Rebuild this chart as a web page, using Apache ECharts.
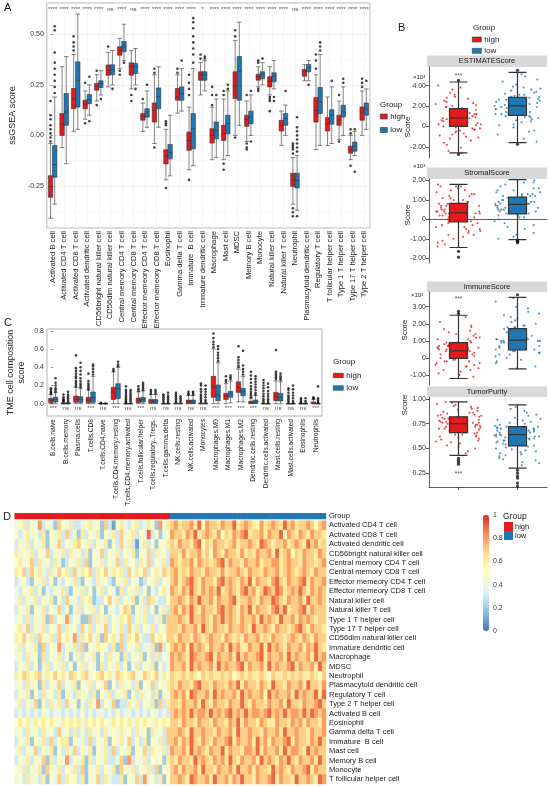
<!DOCTYPE html>
<html>
<head>
<meta charset="utf-8">
<script src="https://cdn.jsdelivr.net/npm/echarts@6/dist/echarts.min.js"></script>
<style>
  html, body { margin: 0; padding: 0; background: #fff; }
  #main { width: 550px; height: 787px; }
</style>
</head>
<body>
<div id="main"></div>
<script>
const RED = '#E41A1C';
const BLUE = '#1F78B4';
const FONT = 'Liberation Sans, Arial, sans-serif';
const groups = ['high', 'low'];

// ---------- A: ssGSEA scores ----------
const cellsA = ['Activated B cell', 'Activated CD4 T cell', 'Activated CD8 T cell', 'Activated dendritic cell',
  'CD56bright natural killer cell', 'CD56dim natural killer cell', 'Central memory CD4 T cell', 'Central memory CD8 T cell',
  'Effector memeory CD4 T cell', 'Effector memeory CD8 T cell', 'Eosinophil', 'Gamma delta T cell', 'Immature  B cell',
  'Immature dendritic cell', 'Macrophage', 'Mast cell', 'MDSC', 'Memory B cell', 'Monocyte', 'Natural killer cell',
  'Natural killer T cell', 'Neutrophil', 'Plasmacytoid dendritic cell', 'Regulatory T cell', 'T follicular helper cell',
  'Type 1 T helper cell', 'Type 17 T helper cell', 'Type 2 T helper cell'];
const sigA = ['****', '****', '****', '****', '****', 'ns', '****', 'ns', '****', '****', '****', '****', '****', '*',
  '****', '****', '****', '****', '****', '****', '****', 'ns', '****', '****', '****', '****', '****', '****'];
// [min, Q1, median, Q3, max]
const boxHighA = [
  [-0.41, -0.306, -0.253, -0.199, -0.04], [-0.06, 0.0, 0.058, 0.108, 0.34], [0.02, 0.132, 0.182, 0.232, 0.4],
  [0.08, 0.132, 0.154, 0.174, 0.22], [0.17, 0.224, 0.243, 0.257, 0.3], [0.24, 0.298, 0.323, 0.348, 0.41],
  [0.33, 0.397, 0.422, 0.439, 0.48], [0.23, 0.298, 0.34, 0.359, 0.42], [0.02, 0.075, 0.094, 0.108, 0.16],
  [-0.04, 0.066, 0.124, 0.16, 0.3], [-0.22, -0.141, -0.103, -0.071, 0.03], [0.11, 0.174, 0.19, 0.232, 0.3],
  [-0.17, -0.074, -0.025, 0.017, 0.14], [0.2, 0.273, 0.298, 0.315, 0.36], [-0.12, -0.038, 0.0, 0.033, 0.14],
  [-0.12, -0.025, 0.008, 0.05, 0.18], [0.0, 0.182, 0.243, 0.315, 0.47], [-0.03, 0.045, 0.078, 0.1, 0.17],
  [0.24, 0.273, 0.29, 0.303, 0.34], [0.2, 0.24, 0.268, 0.29, 0.34], [-0.05, 0.022, 0.05, 0.075, 0.12],
  [-0.34, -0.253, -0.22, -0.187, -0.11], [0.27, 0.293, 0.315, 0.326, 0.35], [-0.07, 0.066, 0.124, 0.187, 0.3],
  [-0.05, 0.022, 0.058, 0.088, 0.19], [-0.02, 0.05, 0.075, 0.1, 0.17], [-0.12, -0.088, -0.07, -0.053, 0.0],
  [0.0, 0.075, 0.116, 0.141, 0.22]];
const boxLowA = [
  [-0.34, -0.207, -0.144, -0.05, 0.19], [-0.14, 0.05, 0.116, 0.207, 0.39], [0.03, 0.14, 0.273, 0.364, 0.6],
  [0.1, 0.157, 0.177, 0.202, 0.25], [0.2, 0.237, 0.257, 0.27, 0.32], [0.25, 0.3, 0.325, 0.35, 0.42],
  [0.37, 0.414, 0.442, 0.464, 0.55], [0.25, 0.306, 0.34, 0.356, 0.43], [0.04, 0.09, 0.116, 0.132, 0.22],
  [0.04, 0.132, 0.19, 0.235, 0.34], [-0.2, -0.116, -0.083, -0.045, 0.1], [0.12, 0.174, 0.207, 0.24, 0.33],
  [-0.15, -0.066, 0.033, 0.108, 0.33], [0.22, 0.273, 0.3, 0.315, 0.37], [-0.11, -0.017, 0.025, 0.066, 0.18],
  [-0.1, 0.008, 0.058, 0.1, 0.22], [0.05, 0.174, 0.318, 0.39, 0.56], [0.0, 0.058, 0.091, 0.12, 0.2],
  [0.25, 0.28, 0.303, 0.315, 0.36], [0.23, 0.265, 0.293, 0.31, 0.37], [0.0, 0.05, 0.083, 0.108, 0.15],
  [-0.37, -0.26, -0.223, -0.187, -0.1], [0.27, 0.315, 0.334, 0.351, 0.37], [-0.05, 0.108, 0.166, 0.237, 0.4],
  [-0.04, 0.055, 0.1, 0.127, 0.24], [0.0, 0.091, 0.116, 0.149, 0.24], [-0.1, -0.078, -0.053, -0.033, 0.02],
  [0.03, 0.1, 0.132, 0.16, 0.23]];
const outHighA = [[-0.03, -0.01, 0.01, 0.03, 0.05, 0.08, 0.1, 0.17], [], [0.42, 0.44, 0.46, 0.49], [0.06, 0.26],
  [0.15, 0.32], [0.44], [0.3, 0.32], [0.17, 0.2], [0.18], [-0.06, 0.31, 0.33], [-0.26, 0.05, 0.06, 0.07], [0.31, 0.33],
  [-0.22, 0.2, 0.23, 0.26, 0.3], [0.38, 0.4], [0.15, 0.2, 0.24], [-0.14, -0.17, 0.2, 0.22], [-0.01, 0.49, 0.52],
  [-0.04, -0.06, -0.07, 0.2], [0.22, 0.23, 0.36, 0.37], [0.12, 0.17, 0.18, 0.19], [],
  [-0.09, -0.07, -0.06, -0.05, -0.04, -0.36, -0.38, -0.4], [], [0.33, 0.37, 0.4], [], [0.2, -0.03],
  [-0.15, 0.01, 0.03], [0.24, 0.26, 0.28]];
const outLowA = [[0.21, 0.24, 0.27, 0.3, 0.33, 0.36, 0.41, 0.52, 0.54], [], [], [0.07, 0.29], [0.18], [0.23], [0.36],
  [0.23], [0.25], [], [], [0.37], [0.36, 0.4, 0.43, 0.46, 0.49, 0.53, 0.56, 0.58], [0.38, 0.39], [0.2], [0.23, 0.25],
  [], [-0.03, 0.22], [0.38], [0.17, 0.19], [0.22],
  [-0.08, -0.06, -0.04, -0.02, 0.0, 0.02, 0.04, 0.09, -0.4], [0.25], [0.42, 0.44, 0.46], [0.27], [0.26, 0.28],
  [-0.18, 0.03], [0.27]];
const tickStepA = 0.25;

// ---------- B: ESTIMATE scores ----------
const facetsB = ['ESTIMATEScore', 'StromalScore', 'ImmuneScore', 'TumorPurity'];
const boxB = [
  [[-2.6, 0.0, 0.84, 1.74, 4.35], [-1.6, 1.07, 2.0, 2.84, 5.3]],
  [[-1.45, -0.13, 0.33, 0.82, 1.8], [-1.05, 0.28, 0.77, 1.15, 2.05]],
  [[-1.2, -0.02, 0.42, 0.9, 2.5], [-0.64, 0.48, 1.04, 1.72, 3.55]],
  [[0.43, 0.66, 0.75, 0.82, 0.97], [0.3, 0.525, 0.64, 0.72, 0.94]]];
const outB = [
  [[4.5, -2.75], [5.5, -1.75]],
  [[-1.65, -1.95], [-1.1, -1.13, -1.16, -1.2]],
  [[2.6, 2.73], [3.7]],
  [[0.4, 0.38, 0.36, 0.34], [0.28, 0.25, 0.22, 0.2, 0.15, 0.12]]];
const starB = [4.88, 1.62, 3.45, 0.236];
const estHigh = [0.8, -1.2, 2.3, 0.4, 1.5, -0.3, 3.1, 0.9, -2.1, 1.2, 0.1, 2.8, -0.7, 1.7, 0.6, -1.6, 2.0, 0.3, 1.1, -0.1,
  3.6, 0.7, -0.9, 1.4, 0.2, 2.5, -0.5, 1.9, 1.0, -2.4, 0.5, 1.3, -0.2, 2.2, 0.9, 4.0, -1.0, 1.6, 0.0, 2.7, 0.8, -0.6, 1.2,
  0.4, 3.3, -1.4, 1.8, 0.6, -0.4, 2.1, 1.1, -1.8, 0.3, 1.5, -0.8, 2.4, 0.7, 1.9, -0.2, 3.8, 1.0, 0.2, -1.1, 1.3, 2.9, 0.5,
  -0.3, 1.7, 0.9, -2.6];
const estLow = [2.0, 0.5, 3.1, 1.4, 2.6, -0.4, 3.8, 1.9, 0.9, 2.3, 4.4, 1.2, 2.8, 0.2, 3.4, 1.7, 2.1, -1.2, 2.5, 1.0, 3.0,
  4.9, 1.5, 2.2, 0.7, 3.6, 1.8, 2.7, -0.8, 2.0, 1.3, 3.2, 0.4, 2.4, 4.1, 1.6, 2.9, 1.1, 3.5, -0.1, 2.1, 1.9, 2.6, 0.8, 3.9,
  1.4, 2.3, 5.1, 1.0, 2.8, 0.1, 3.3, 1.7, 2.5, -1.5, 2.0, 1.2, 3.7, 0.6, 2.2, 4.6, 1.5, 2.7, 0.9, 3.1, 1.8, 2.4, -0.5, 2.9, 1.3];
const stromHigh = [0.3, -0.8, 1.1, 0.0, 0.6, -0.4, 1.5, 0.4, -1.2, 0.8, 0.2, 1.3, -0.2, 0.5, -0.6, 0.9, 0.1, 1.7, -1.0, 0.4,
  0.7, -0.3, 1.2, 0.3, -0.1, 0.6, -1.4, 1.0, 0.2, 0.5, -0.5, 1.4, 0.0, 0.8, -0.7, 0.3, 1.6, -0.2, 0.6, 0.1, -0.9, 1.1, 0.4,
  -0.4, 0.7, 0.2, 1.3, -0.1, 0.5, -1.3, 0.9, 0.3, -0.6, 1.0, 0.0, 0.6, -0.3, 1.5, 0.2, 0.4, -0.8, 0.8, 0.1, 1.2, -0.5, 0.3,
  0.7, -1.1, 0.5, 1.8];
const stromLow = [0.8, 0.2, 1.3, 0.6, 1.0, -0.4, 1.7, 0.7, 0.4, 1.1, 1.9, 0.5, 0.9, -0.8, 1.4, 0.8, 0.3, 1.2, 0.0, 0.7, 1.6,
  0.9, -0.2, 1.0, 0.6, 1.3, 0.4, 2.0, 0.8, 0.1, 1.1, -1.0, 0.7, 1.5, 0.5, 0.9, -0.5, 1.2, 0.8, 0.3, 1.8, 0.6, 1.0, -0.1, 1.4,
  0.7, 0.2, 1.1, 0.9, -0.7, 1.3, 0.5, 0.8, 1.6, 0.4, 1.0, -0.3, 0.6, 1.2, 0.9, 0.1, 1.5, 0.7, 1.9, 0.3, 1.0, -0.9, 0.8, 1.2, 0.5];
const immHigh = [0.4, -0.5, 1.2, 0.1, 0.7, -0.2, 1.6, 0.5, -0.9, 0.9, 0.2, 1.4, 0.0, 0.6, -0.4, 2.1, 0.3, 0.8, -0.7, 0.4, 1.1,
  -0.1, 0.6, 1.8, 0.2, -1.1, 0.9, 0.4, -0.3, 1.3, 0.5, 0.1, -0.6, 0.7, 2.4, 0.3, 1.0, -0.2, 0.5, -0.8, 0.8, 0.2, 1.5, 0.0,
  0.6, -0.5, 1.2, 0.4, 0.1, -1.0, 0.7, 1.9, 0.3, -0.3, 0.9, 0.5, -0.1, 1.1, 0.2, 0.6, -0.7, 1.4, 0.4, 0.0, 0.8, -0.4, 1.7,
  0.3, 0.5, -0.2];
const immLow = [1.0, 0.3, 1.8, 0.7, 1.3, -0.2, 2.4, 1.1, 0.5, 1.6, 2.9, 0.8, 1.2, -0.5, 1.9, 1.0, 0.4, 1.5, 3.3, 0.9, 0.2,
  1.7, 1.1, 2.2, 0.6, 1.4, -0.3, 1.0, 2.6, 0.7, 1.3, 0.1, 1.8, 1.2, 0.5, 2.0, 0.9, 3.0, 0.3, 1.5, 1.1, -0.1, 1.7, 0.8, 2.3,
  1.0, 0.6, 1.4, 0.0, 1.9, 1.2, 2.7, 0.4, 1.6, 0.9, -0.6, 1.3, 2.1, 0.7, 1.0, 3.5, 0.5, 1.8, 1.1, 0.2, 1.4, 2.5, 0.8, 1.2, 0.6];
const tumHigh = [0.75, 0.62, 0.84, 0.70, 0.91, 0.56, 0.78, 0.68, 0.95, 0.73, 0.50, 0.81, 0.66, 0.88, 0.72, 0.59, 0.77, 0.64,
  0.93, 0.74, 0.53, 0.80, 0.69, 0.86, 0.76, 0.61, 0.83, 0.71, 0.97, 0.67, 0.47, 0.79, 0.74, 0.90, 0.63, 0.76, 0.58, 0.85,
  0.72, 0.82, 0.65, 0.94, 0.70, 0.55, 0.78, 0.68, 0.87, 0.75, 0.60, 0.81, 0.73, 0.92, 0.66, 0.77, 0.52, 0.84, 0.71, 0.89,
  0.64, 0.79, 0.74, 0.57, 0.83, 0.69, 0.96, 0.76, 0.62, 0.80, 0.45, 0.86];
const tumLow = [0.64, 0.48, 0.72, 0.58, 0.83, 0.40, 0.67, 0.55, 0.76, 0.62, 0.35, 0.70, 0.52, 0.88, 0.60, 0.45, 0.68, 0.57,
  0.79, 0.63, 0.33, 0.74, 0.50, 0.66, 0.92, 0.59, 0.43, 0.71, 0.61, 0.54, 0.81, 0.65, 0.38, 0.69, 0.56, 0.77, 0.62, 0.47,
  0.73, 0.60, 0.86, 0.53, 0.66, 0.42, 0.70, 0.58, 0.75, 0.63, 0.36, 0.68, 0.51, 0.80, 0.64, 0.46, 0.72, 0.57, 0.90, 0.61,
  0.49, 0.67, 0.55, 0.78, 0.65, 0.39, 0.71, 0.59, 0.84, 0.62, 0.44, 0.69];
const pointsB = [[estHigh, estLow], [stromHigh, stromLow], [immHigh, immLow], [tumHigh, tumLow]];
const rangeB = [[-3.1, 5.82], [-2.25, 2.08], [-1.58, 3.86], [0.11, 1.02]];
const tickStepB = [2, 1, 1, 0.25];

// ---------- C: CIBERSORT composition ----------
const cellsC = ['B.cells.naive', 'B.cells.memory', 'Plasma.cells', 'T.cells.CD8', 'T.cells.CD4.naive',
  'T.cells.CD4.memory.resting', 'T.cells.CD4.memory.activated', 'T.cells.follicular.helper', 'T.cells.regulatory..Tregs.',
  'T.cells.gamma.delta', 'NK.cells.resting', 'NK.cells.activated', 'Monocytes', 'Macrophages.M0', 'Macrophages.M1',
  'Macrophages.M2', 'Dendritic.cells.resting', 'Dendritic.cells.activated', 'Mast.cells.resting', 'Mast.cells.activated',
  'Eosinophils', 'Neutrophils'];
const sigC = ['***', 'ns', 'ns', '***', 'ns', '***', 'ns', '***', 'ns', 'ns', 'ns', 'ns', 'ns', '***', '***', '***', '***',
  'ns', 'ns', 'ns', 'ns', '***'];
const boxHighC = [[0, 0.01, 0.04, 0.058, 0.1], [0, 0, 0, 0.005, 0.012], [0, 0.015, 0.047, 0.084, 0.18],
  [0, 0.01, 0.04, 0.07, 0.15], [0, 0, 0, 0, 0], [0, 0.047, 0.13, 0.18, 0.35], [0, 0, 0, 0, 0],
  [0, 0.01, 0.04, 0.062, 0.13], [0, 0.007, 0.033, 0.047, 0.1], [0, 0, 0, 0, 0], [0, 0, 0, 0.003, 0.008],
  [0, 0.003, 0.02, 0.04, 0.09], [0, 0, 0, 0.003, 0.008], [0, 0.07, 0.186, 0.3, 0.6], [0, 0.047, 0.084, 0.113, 0.22],
  [0.02, 0.124, 0.18, 0.24, 0.38], [0, 0.003, 0.01, 0.026, 0.06], [0, 0, 0, 0, 0], [0, 0.033, 0.07, 0.124, 0.25],
  [0, 0, 0, 0, 0], [0, 0, 0, 0, 0], [0, 0, 0.005, 0.02, 0.05]];
const boxLowC = [[0, 0.02, 0.047, 0.07, 0.12], [0, 0, 0, 0.005, 0.012], [0, 0.015, 0.047, 0.077, 0.17],
  [0, 0.015, 0.07, 0.128, 0.3], [0, 0, 0, 0, 0], [0, 0.058, 0.168, 0.22, 0.4], [0, 0, 0, 0, 0],
  [0, 0.018, 0.047, 0.07, 0.14], [0, 0.005, 0.03, 0.045, 0.1], [0, 0, 0, 0, 0], [0, 0, 0, 0.002, 0.006],
  [0, 0.003, 0.02, 0.04, 0.09], [0, 0, 0, 0.002, 0.006], [0, 0.033, 0.095, 0.205, 0.45], [0.01, 0.07, 0.113, 0.135, 0.25],
  [0.02, 0.088, 0.13, 0.168, 0.3], [0, 0.005, 0.02, 0.04, 0.09], [0, 0, 0, 0, 0], [0, 0.03, 0.07, 0.113, 0.24],
  [0, 0, 0, 0, 0], [0, 0, 0, 0, 0], [0, 0, 0, 0, 0]];
const outHighC = [[0.11, 0.12, 0.13, 0.15, 0.17], [0.02, 0.03, 0.04, 0.05, 0.07, 0.1],
  [0.19, 0.21, 0.23, 0.25, 0.28, 0.3, 0.33, 0.36, 0.39, 0.53], [0.16, 0.18, 0.2, 0.22, 0.25, 0.33], [0.005, 0.01],
  [0.36, 0.38], [0.01, 0.02, 0.03, 0.05, 0.07, 0.09, 0.11, 0.13, 0.15, 0.19], [0.14, 0.16, 0.19], [0.11, 0.13, 0.15],
  [0.01, 0.03, 0.05, 0.07, 0.09, 0.1], [0.02, 0.04, 0.06, 0.08, 0.1, 0.12], [0.1, 0.11, 0.13],
  [0.02, 0.04, 0.06, 0.08, 0.1, 0.13, 0.16, 0.2, 0.22], [0.62, 0.65, 0.68, 0.72, 0.77], [0.24, 0.26, 0.3],
  [0.4, 0.42, 0.45, 0.48, 0.51, 0.63], [0.07, 0.09, 0.11, 0.13, 0.16, 0.19, 0.23, 0.27, 0.31, 0.35],
  [0.01, 0.03, 0.05, 0.08, 0.11, 0.14, 0.17, 0.2, 0.23, 0.26], [0.27, 0.29, 0.31, 0.33, 0.35, 0.59],
  [0.01, 0.03, 0.05, 0.07, 0.09, 0.12, 0.15, 0.17], [0.01, 0.02, 0.04, 0.06], [0.055, 0.06, 0.07]];
const outLowC = [[0.13, 0.15, 0.17, 0.2, 0.23, 0.28], [0.02, 0.04, 0.06, 0.08, 0.1, 0.13],
  [0.18, 0.2, 0.22, 0.25, 0.28, 0.32, 0.36, 0.4, 0.45], [0.32, 0.35, 0.38, 0.41, 0.43], [0.005], [0.41, 0.43, 0.46],
  [0.01, 0.03, 0.05, 0.07, 0.09, 0.11, 0.13, 0.15], [0.15, 0.17, 0.19, 0.21, 0.23], [0.11, 0.13, 0.15],
  [0.01, 0.03, 0.05, 0.07, 0.09, 0.12], [0.02, 0.04, 0.06, 0.08], [0.1, 0.12, 0.13],
  [0.02, 0.04, 0.07, 0.1, 0.13, 0.16, 0.2], [0.47, 0.5, 0.53, 0.56, 0.6, 0.63], [0.27, 0.29, 0.31],
  [0.32, 0.35, 0.38, 0.42, 0.58], [0.1, 0.12, 0.15, 0.18, 0.21, 0.24, 0.27, 0.3],
  [0.01, 0.03, 0.05, 0.08, 0.11, 0.14, 0.18, 0.22], [0.26, 0.28, 0.3, 0.33],
  [0.01, 0.03, 0.06, 0.09, 0.12, 0.16, 0.2], [0.01, 0.03, 0.06], [0.01, 0.02, 0.04, 0.06, 0.19]];
const tickStepC = 0.2;

// ---------- D: heatmap (one digit per sample, value = digit / 10) ----------
const rowsD = ['Activated CD4 T cell', 'Activated CD8 T cell', 'Activated dendritic cell', 'CD56bright natural killer cell',
  'Central memory CD4 T cell', 'Central memory CD8 T cell', 'Effector memeory CD4 T cell', 'Effector memeory CD8 T cell',
  'Natural killer cell', 'Natural killer T cell', 'Type 1 T helper cell', 'Type 17 T helper cell',
  'CD56dim natural killer cell', 'Immature dendritic cell', 'Macrophage', 'MDSC', 'Neutrophil',
  'Plasmacytoid dendritic cell', 'Regulatory T cell', 'Type 2 T helper cell', 'Activated B cell', 'Eosinophil',
  'Gamma delta T cell', 'Immature  B cell', 'Mast cell', 'Memory B cell', 'Monocyte', 'T follicular helper cell'];
const heatHigh = [
  '4563548354 2754633456 4527315643 5634652846', '5346453625 4637352635 4625463745 6354935245',
  '3546354625 4735467546 3546253746 3146352546', '6454635473 5463645362 5473546354 6254736453',
  '5645736453 6423546372 5463547364 5364735463', '6573756436 4756374657 3657465637 4657356476',
  '3453254635 2435463254 3645325463 5423546354', '4354635243 5463254635 2463542635 4635243564',
  '4635463546 2537443656 2335746354 6253764335', '3546254635 4735246354 6352443576 2546352463',
  '4536354627 3548354227 3646354657 3546334627', '5647354635 4736453746 3547354637 4635463547',
  '6574637546 3756483657 4627564736 5743375657', '4635462735 4835463725 4655362735 4634462835',
  '4536452635 4635246354 6253645263 5462536354', '3546352463 5463524635 4263546352 4635462534',
  '6576567465 7564765674 5675647656 7457657465', '4536452635 4735462546 3547253645 3625473546',
  '3546253645 3625436453 6254635462 5364536254', '4635472536 4637452536 4835472336 4635462736',
  '3434343543 4434343534 3443435344 3434354343', '5656465656 5465656465 6565465656 4656546565',
  '4536453645 3745363536 4536454645 3645264537', '3546254637 3566254437 3546254647 3536254637',
  '4635473546 2536473546 2546373546 2547365463', '3546354726 3548354626 3546334728 3546354526',
  '5463546275 4635463725 4635462754 6354637254', '4536453625 4736553625 4736433625 4738453625'];
const heatLow = [
  '7867786958 7768779678 7658678769 7867787578', '8776879678 7685768789 6778687795 8768768776',
  '7687768957 6877678677 8769876778 6787697867', '7768677867 5876877686 7687786967 8576877687',
  '8767786877 6789687768 7786778867 8776877678', '7867687768 7768677876 8776877867 8767876877',
  '7867897687 7689787687 9687768976 8778968778', '8768797687 8796787689 7867987986 7879768787',
  '7787687977 8687789677 8768779876 8778697787', '7868797687 7689787687 9687768979 6778968777',
  '7787697787 6879787687 7869787697 7868787677', '7768778697 6877687787 6977876877 6789768776',
  '7687768767 8776876768 7786768776 7876876877', '7878697876 8778697866 8779697876 8778687976',
  '8787698778 9687786978 7789687786 9787786978', '8778697877 8697877896 8778697877 8968778697',
  '7667676576 7667675676 7667657667 6767667657', '7687768977 6877687968 7768769776 8778697768',
  '7878698778 6978778697 8778597877 8697877969', '7768778697 6877687797 6877687786 9776877897',
  '7878797887 9787897879 7887897879 7887979878', '7768776877 6877687968 7768766877 6878687768',
  '7787697787 7687786977 8776877869 7787768778', '7868797687 6877896877 8697868778 9687768797',
  '8778697876 8779687768 8796877869 7887697877', '7687769787 6878697687 7869787687 9768778697',
  '7868778697 7687786977 8687769787 6877896877', '7787698778 6977868797 7687789687 7697787698'];
const heatTicks = [0, 0.2, 0.4, 0.6, 0.8, 1];

// ---------- build ----------
const chart = echarts.init(document.getElementById('main'));

const gridA = {left: 28, top: 3, width: 342, height: 225};
const gridC = {left: 47, top: 329, width: 275, height: 87};
const gridsB = [
  {left: 429, top: 67, width: 118, height: 91},
  {left: 429, top: 179, width: 118, height: 84},
  {left: 429, top: 292, width: 118, height: 93},
  {left: 429, top: 397, width: 118, height: 90}];

// side-by-side offset that ECharts uses for two boxplot series, in category units
function dodge(width, n) {
  const bw = width / n;
  return 0.2875 * (0.8 * bw - 2) / bw;
}
function outliers(list, off) {
  const pts = [];
  list.forEach((vals, i) => vals.forEach(v => pts.push([i + off, v])));
  return pts;
}
const axisText = {fontSize: 7, color: '#333', fontFamily: FONT};
const dAOff = dodge(gridA.width, cellsA.length);
const dCOff = dodge(gridC.width, cellsC.length);

const nHigh = heatHigh[0].replace(/ /g, '').length;
const nLow = heatLow[0].replace(/ /g, '').length;
const samples = [];
for (let i = 0; i < nHigh + nLow; i++) samples.push('S' + (i + 1));
const heatData = [];
rowsD.forEach((r, ri) => {
  const digits = (heatHigh[ri] + heatLow[ri]).replace(/ /g, '');
  for (let c = 0; c < digits.length; c++) heatData.push([c, ri, Number(digits[c]) / 10]);
});
const groupData = samples.map((s, i) => [i, 0, i < nHigh ? 0 : 1]);

const xAxis = [
  {gridIndex: 0, type: 'category', data: cellsA, axisLine: {show: false},
    axisTick: {alignWithLabel: true, length: 2, lineStyle: {color: '#333', width: 0.6}},
    axisLabel: {rotate: 90, interval: 0, margin: 3, fontSize: 7.6, color: '#1a1a1a', fontFamily: FONT}},
  {gridIndex: 0, type: 'value', min: -0.5, max: cellsA.length - 0.5, minInterval: 1, maxInterval: 1,
    axisLine: {show: false}, axisTick: {show: false}, axisLabel: {show: false},
    splitLine: {show: true, lineStyle: {color: '#ececec', width: 0.6}}}
];
gridsB.forEach((g, k) => {
  const line = k === 1 || k === 3;
  xAxis.push({gridIndex: 1 + k, type: 'category', data: groups, jitter: 46, jitterOverlap: true,
    axisLine: {show: line, lineStyle: {color: '#333', width: 0.8}},
    axisTick: {show: line, alignWithLabel: true, length: 3, lineStyle: {color: '#333', width: 0.8}},
    axisLabel: {show: false}, splitLine: {show: false}});
});
gridsB.forEach((g, k) => {
  xAxis.push({gridIndex: 1 + k, type: 'category', data: groups, show: false});
});
xAxis.push(
  {gridIndex: 5, type: 'category', data: cellsC, axisLine: {show: false},
    axisTick: {alignWithLabel: true, length: 2, lineStyle: {color: '#333', width: 0.6}},
    axisLabel: {rotate: 90, interval: 0, margin: 3, fontSize: 6.6, color: '#1a1a1a', fontFamily: FONT}},
  {gridIndex: 5, type: 'value', min: -0.5, max: cellsC.length - 0.5, show: false},
  {gridIndex: 6, type: 'category', data: samples, show: false},
  {gridIndex: 7, type: 'category', data: samples, show: false},
  {gridIndex: 8, type: 'value', show: false}
);

const yAxis = [
  {gridIndex: 0, type: 'value', min: -0.458, max: 0.655, minInterval: tickStepA, maxInterval: tickStepA,
    name: 'ssGSEA score', nameLocation: 'middle', nameGap: 16,
    nameTextStyle: {fontSize: 9, color: '#222', fontFamily: FONT},
    axisLine: {show: false}, axisTick: {show: true, length: 2, lineStyle: {color: '#333', width: 0.6}},
    axisLabel: Object.assign({margin: 3, showMinLabel: false, showMaxLabel: false, formatter: v => v.toFixed(2)}, axisText),
    splitLine: {lineStyle: {color: '#e6e6e6', width: 0.6}},
    minorTick: {show: false, splitNumber: 2}, minorSplitLine: {show: true, lineStyle: {color: '#f3f3f3', width: 0.5}}}
];
gridsB.forEach((g, k) => {
  const step = tickStepB[k];
  yAxis.push({gridIndex: 1 + k, type: 'value', min: rangeB[k][0], max: rangeB[k][1], minInterval: step, maxInterval: step,
    axisLine: {show: true, lineStyle: {color: '#333', width: 0.8}},
    axisTick: {show: true, length: 3, lineStyle: {color: '#333', width: 0.8}},
    axisLabel: Object.assign({margin: 3, showMinLabel: false, showMaxLabel: false,
      formatter: v => (Math.abs(v) < 1e-9 ? '0' : v.toFixed(2))}, axisText),
    splitLine: {show: false}});
});
yAxis.push(
  {gridIndex: 5, type: 'value', min: -0.135, max: 0.82, minInterval: tickStepC, maxInterval: tickStepC,
    name: 'TME cell composition\nscore', nameLocation: 'middle', nameGap: 20,
    nameTextStyle: {fontSize: 9, color: '#222', lineHeight: 11, fontFamily: FONT},
    axisLine: {show: false}, axisTick: {show: true, length: 2, lineStyle: {color: '#333', width: 0.6}},
    axisLabel: Object.assign({margin: 3, showMinLabel: false, showMaxLabel: false, formatter: v => v.toFixed(1)}, axisText),
    splitLine: {show: false}},
  {gridIndex: 6, type: 'category', data: ['Group'], position: 'right', axisLine: {show: false}, axisTick: {show: false},
    axisLabel: {fontSize: 7.5, color: '#1a1a1a', margin: 3, fontFamily: FONT}},
  {gridIndex: 7, type: 'category', data: rowsD, inverse: true, position: 'right', axisLine: {show: false},
    axisTick: {show: false}, axisLabel: {fontSize: 7.5, color: '#1a1a1a', margin: 3, interval: 0, fontFamily: FONT}},
  {gridIndex: 8, type: 'value', min: 0, max: 1, interval: 0.2, position: 'right', axisLine: {show: false},
    axisTick: {show: false}, splitLine: {show: false},
    axisLabel: {fontSize: 7, color: '#333', margin: 4, fontFamily: FONT,
      formatter: v => (heatTicks.some(t => Math.abs(t - v) < 1e-6) ? (v < 1e-6 || v > 1 - 1e-6 ? String(Math.round(v)) : v.toFixed(1)) : '')}}
);

const boxStyle = (c, w) => ({color: c, borderColor: '#333', borderWidth: w});
const dot = (size) => ({type: 'scatter', symbolSize: size, itemStyle: {color: '#111'}, emphasis: {disabled: true}, silent: true});
const starLabel = (labels, size) => ({type: 'scatter', symbolSize: 1, itemStyle: {color: 'transparent'}, silent: true,
  label: {show: true, position: 'inside', fontSize: size, color: '#222', fontFamily: FONT,
    formatter: p => labels[p.dataIndex]}});

const series = [];
// A
series.push({name: 'high', type: 'boxplot', xAxisIndex: 0, yAxisIndex: 0, data: boxHighA, boxWidth: [4.4, 4.4],
  itemStyle: boxStyle(RED, 0.6), emphasis: {disabled: true}, silent: true});
series.push({name: 'low', type: 'boxplot', xAxisIndex: 0, yAxisIndex: 0, data: boxLowA, boxWidth: [4.4, 4.4],
  itemStyle: boxStyle(BLUE, 0.6), emphasis: {disabled: true}, silent: true});
series.push(Object.assign(dot(2.6), {xAxisIndex: 1, yAxisIndex: 0, data: outliers(outHighA, -dAOff)}));
series.push(Object.assign(dot(2.6), {xAxisIndex: 1, yAxisIndex: 0, data: outliers(outLowA, dAOff)}));
series.push(Object.assign(starLabel(sigA, 6), {xAxisIndex: 0, yAxisIndex: 0, data: sigA.map((s, i) => [i, 0.625])}));
// B
gridsB.forEach((g, k) => {
  [0, 1].forEach(gi => {
    series.push({type: 'scatter', xAxisIndex: 2 + k, yAxisIndex: 1 + k, symbolSize: 2.1,
      itemStyle: {color: gi === 0 ? RED : BLUE, opacity: 0.8}, emphasis: {disabled: true}, silent: true,
      data: pointsB[k][gi].map(v => [gi, v])});
  });
  series.push({type: 'boxplot', xAxisIndex: 6 + k, yAxisIndex: 1 + k, boxWidth: [18, 18], silent: true,
    emphasis: {disabled: true}, itemStyle: boxStyle(RED, 1.2),
    data: [{value: boxB[k][0], itemStyle: boxStyle(RED, 1.2)}, {value: boxB[k][1], itemStyle: boxStyle(BLUE, 1.2)}]});
  const outs = [];
  outB[k].forEach((vals, gi) => vals.forEach(v => outs.push([gi, v])));
  series.push(Object.assign(dot(3.2), {xAxisIndex: 6 + k, yAxisIndex: 1 + k, data: outs}));
  series.push(Object.assign(starLabel(['***'], 6.5), {xAxisIndex: 6 + k, yAxisIndex: 1 + k, data: [[0, starB[k]]]}));
});
// C
series.push({name: 'high', type: 'boxplot', xAxisIndex: 10, yAxisIndex: 5, data: boxHighC, boxWidth: [4.5, 4.5],
  itemStyle: boxStyle(RED, 0.6), emphasis: {disabled: true}, silent: true});
series.push({name: 'low', type: 'boxplot', xAxisIndex: 10, yAxisIndex: 5, data: boxLowC, boxWidth: [4.5, 4.5],
  itemStyle: boxStyle(BLUE, 0.6), emphasis: {disabled: true}, silent: true});
series.push(Object.assign(dot(2.6), {xAxisIndex: 11, yAxisIndex: 5, data: outliers(outHighC, -dCOff)}));
series.push(Object.assign(dot(2.6), {xAxisIndex: 11, yAxisIndex: 5, data: outliers(outLowC, dCOff)}));
series.push(Object.assign(starLabel(sigC, 6), {xAxisIndex: 10, yAxisIndex: 5, data: sigC.map((s, i) => [i, -0.055])}));
// D
const groupIdx = series.length;
series.push({type: 'heatmap', xAxisIndex: 12, yAxisIndex: 6, data: groupData, silent: true,
  itemStyle: {borderWidth: 0}, emphasis: {disabled: true}});
const heatIdx = series.length;
series.push({type: 'heatmap', xAxisIndex: 13, yAxisIndex: 7, data: heatData, silent: true, progressive: 0,
  itemStyle: {borderWidth: 0}, emphasis: {disabled: true}});

const legendData = [
  {name: 'high', itemStyle: {color: RED, borderColor: '#333', borderWidth: 0.6}},
  {name: 'low', itemStyle: {color: BLUE, borderColor: '#333', borderWidth: 0.6}}];
function legendAt(left, top, w, h, gap) {
  return {left: left, top: top, orient: 'vertical', padding: 0, itemWidth: w, itemHeight: h, itemGap: gap,
    icon: 'rect', selectedMode: false, data: legendData,
    textStyle: {fontSize: 8, color: '#1a1a1a', fontFamily: FONT, padding: [0, 0, 0, -2]}};
}

function txt(s, x, y, size, align) {
  return {type: 'text', x: x, y: y, silent: true,
    style: {text: s, fontSize: size, fill: '#1a1a1a', fontFamily: FONT, align: align || 'left', verticalAlign: 'middle'}};
}
function vtxt(s, x, y, size) {
  return {type: 'text', x: x, y: y, rotation: Math.PI / 2, silent: true,
    style: {text: s, fontSize: size, fill: '#1a1a1a', fontFamily: FONT, align: 'center', verticalAlign: 'middle'}};
}
function strip(s, y, h) {
  return {type: 'group', silent: true, children: [
    {type: 'rect', shape: {x: 427, y: y, width: 120, height: h}, style: {fill: '#d9d9d9'}},
    {type: 'text', x: 487, y: y + h / 2,
      style: {text: s, fontSize: 7.5, fill: '#1a1a1a', fontFamily: FONT, align: 'center', verticalAlign: 'middle'}}]};
}
const stripY = [[55.5, 11.5], [167.5, 11.5], [281.5, 10.5], [386.5, 10.5]];
const graphic = [
  txt('A', 4, 8, 11), txt('B', 398, 28, 11), txt('C', 4, 323, 11), txt('D', 3, 517, 11),
  txt('Group', 380, 105, 8), txt('Group', 473, 28, 8), txt('Group', 333, 362, 8), txt('Group', 503, 517, 8.5),
  txt('\u00d710\u00b3', 413, 77, 6), txt('\u00d710\u00b3', 413, 166, 6), txt('\u00d710\u00b3', 411, 295, 6),
  vtxt('Score', 408, 127, 8), vtxt('Score', 408, 215, 8), vtxt('Score', 405, 330, 8), vtxt('Score', 405, 405, 8)
].concat(facetsB.map((f, k) => strip(f, stripY[k][0], stripY[k][1])));

chart.setOption({
  animation: false,
  backgroundColor: '#fff',
  textStyle: {fontFamily: FONT},
  grid: [
    Object.assign({show: true, borderColor: '#a0a0a0', borderWidth: 0.8, backgroundColor: '#fff'}, gridA),
    gridsB[0], gridsB[1], gridsB[2], gridsB[3],
    Object.assign({show: true, borderColor: '#a0a0a0', borderWidth: 0.8, backgroundColor: '#fff'}, gridC),
    {left: 14.7, top: 513.3, width: 311.3, height: 5.7},
    {left: 14.7, top: 520.7, width: 311.3, height: 263.3},
    {left: 483, top: 515, width: 6, height: 116}
  ],
  xAxis: xAxis,
  yAxis: yAxis,
  legend: [legendAt(380, 112.5, 7, 5, 5.5), legendAt(472, 35.5, 9, 5, 3.3), legendAt(333, 371.5, 10, 4.5, 4.5)],
  visualMap: [
    {type: 'continuous', seriesIndex: heatIdx, min: 0, max: 1, orient: 'vertical', left: 483, top: 515,
      itemWidth: 6, itemHeight: 116, padding: 0, calculable: false, text: null, showLabel: false,
      inRange: {color: ['#4575B4', '#91BFDB', '#E0F3F8', '#FFFFBF', '#FEE090', '#FC8D59', '#D73027']}},
    {type: 'piecewise', seriesIndex: groupIdx, orient: 'vertical', inverse: true, align: 'left', left: 504, top: 522,
      padding: 0, itemWidth: 9, itemHeight: 9, itemGap: 0, itemSymbol: 'rect', textGap: 2, selectedMode: false,
      textStyle: {fontSize: 7.5, color: '#1a1a1a', fontFamily: FONT},
      pieces: [{value: 0, label: 'high', color: RED}, {value: 1, label: 'low', color: BLUE}]}
  ],
  graphic: graphic,
  series: series
});
</script>
</body>
</html>
